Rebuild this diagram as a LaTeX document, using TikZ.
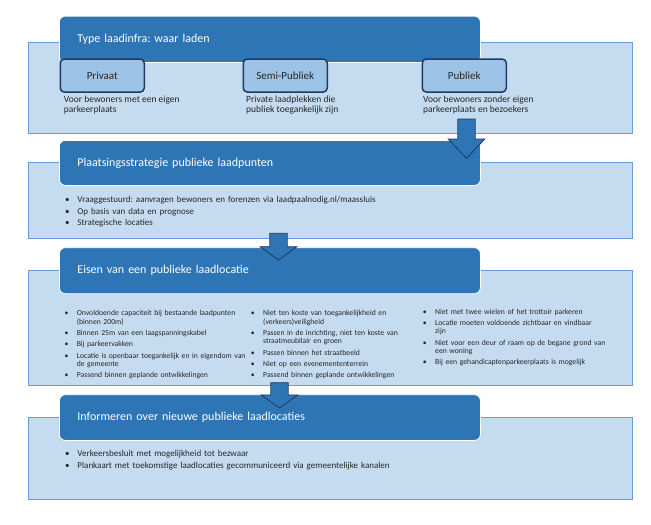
\documentclass[tikz,border=0pt]{standalone}
\usepackage{fontspec}
\setmainfont{Carlito}
\usetikzlibrary{calc,positioning}
\definecolor{hdrblue}{HTML}{2E75B6}
\definecolor{panelfill}{HTML}{C5DCF0}
\definecolor{panelline}{HTML}{6C9AD8}
\definecolor{kindfill}{HTML}{9DC3E6}
\definecolor{navy}{HTML}{1F3864}
\definecolor{txt}{HTML}{262626}
\frenchspacing
\newcommand{\blt}{\par\hangindent=12.3pt\hangafter=1\noindent\makebox[12.3pt][l]{\textbullet}}
\def\blockarrow(#1)(#2)#3{\draw[flowarrow] ($(#1)+(-8.7,0)$) -- ($(#1)+(8.7,0)$) -- ($(#2)+(8.7,-#3)$) -- ($(#2)+(18.3,-#3)$) -- (#2) -- ($(#2)+(-18.3,-#3)$) -- ($(#2)+(-8.7,-#3)$) -- cycle;}
\tikzset{
	panel/.style={draw=panelline, line width=0.8pt, fill=panelfill, anchor=north west, inner sep=0pt, minimum width=604pt},
	header/.style={draw=white, line width=0.8pt, fill=hdrblue, rounded corners=6pt, anchor=north west, minimum width=421pt, text width=385pt, inner xsep=18pt, inner ysep=0pt, align=left, text=white, font=\fontsize{12}{14}\selectfont},
	kindbox/.style={draw=navy, line width=1.5pt, fill=kindfill, rounded corners=4pt, anchor=north west, minimum width=84pt, minimum height=33pt, text=txt, font=\fontsize{11}{13}\selectfont},
	kindtext/.style={anchor=north west, inner sep=0pt, align=left, text=txt, font=\fontsize{9.5}{10.5}\selectfont},
	bullets/.style={anchor=north west, inner sep=0pt, text width=#1, align=left, text=txt, font=\fontsize{9}{11.5}\selectfont},
	eisen/.style={anchor=north west, inner sep=0pt, text width=#1, align=left, text=txt, font=\fontsize{7.7}{8.2}\selectfont\setlength{\parskip}{3.2pt}},
	flowarrow/.style={draw=navy, line width=0.8pt, fill=hdrblue, line join=miter}
}

\begin{document}
\begin{tikzpicture}[x=1pt,y=-1pt]
	\useasboundingbox (0,0) rectangle (651,525);
	
	%%%%% type laadinfra %%%%%
	\node[panel, minimum height=91.6pt] (p1) at (27.5,41.7) {};
	\node[header, minimum height=46.3pt] (h1) at (59,15.7) {Type laadinfra: waar laden};
	\node[kindbox] (privaat) at (59.5,58.3) {Privaat};
	\node[kindbox] (semi) at (242.5,58.3) {Semi-Publiek};
	\node[kindbox] (publiek) at (421.5,58.3) {Publiek};
	\node[kindtext] (privaattxt) at (63.7,95.5) {Voor bewoners met een eigen\\parkeerplaats};
	\node[kindtext] (semitxt) at (246,95.5) {Private laadplekken die\\publiek toegankelijk zijn};
	\node[kindtext] (publiektxt) at (423,95.5) {Voor bewoners zonder eigen\\parkeerplaats en bezoekers};
	
	%%%%% plaatsingsstrategie %%%%%
	\node[panel, minimum height=76.6pt] (p2) at (27.5,161.7) {};
	\node[header, minimum height=45pt] (h2) at (59,140) {Plaatsingsstrategie publieke laadpunten};
	\node[bullets=400pt] (strat) at (65,191.2) {\blt Vraaggestuurd: aanvragen bewoners en forenzen via laadpaalnodig.nl/maassluis
		\blt Op basis van data en prognose
		\blt Strategische locaties};
	
	%%%%% eisen %%%%%
	\node[panel, minimum height=115pt] (p3) at (27.5,270) {};
	\node[header, minimum height=46pt] (h3) at (59,247.3) {Eisen van een publieke laadlocatie};
	\node[eisen=182pt] (eis1) at (64.3,304.2) {\blt Onvoldoende capaciteit bij bestaande laadpunten\newline(binnen 200m)
		\blt Binnen 25m van een laagspanningskabel
		\blt Bij parkeervakken
		\blt Locatie is openbaar toegankelijk en in eigendom van\newline de gemeente
		\blt Passend binnen geplande ontwikkelingen};
	\node[eisen=165pt] (eis2) at (250.7,304.2) {\blt Niet ten koste van toegankelijkheid en\newline(verkeers)veiligheid
		\blt Passen in de inrichting, niet ten koste van\newline straatmeubilair en groen
		\blt Passen binnen het straatbeeld
		\blt Niet op een evenemententerrein
		\blt Passend binnen geplande ontwikkelingen};
	\node[eisen=195pt] (eis3) at (422.7,302.7) {\blt Niet met twee wielen of het trottoir parkeren
		\blt Locatie moeten voldoende zichtbaar en vindbaar\newline zijn
		\blt Niet voor een deur of raam op de begane grond van\newline een woning
		\blt Bij een gehandicaptenparkeerplaats is mogelijk};
	
	%%%%% informeren %%%%%
	\node[panel, minimum height=81.7pt] (p4) at (27.5,417.3) {};
	\node[header, minimum height=45.7pt] (h4) at (59,394.3) {Informeren over nieuwe publieke laadlocaties};
	\node[bullets=400pt] (info) at (65,445.2) {\blt Verkeersbesluit met mogelijkheid tot bezwaar
		\blt Plankaart met toekomstige laadlocaties gecommuniceerd via gemeentelijke kanalen};
	
	%%%%% pijlen %%%%%
	\coordinate (a1top) at (466.5,119);
	\coordinate (a1tip) at (466.5,158.3);
	\coordinate (a2top) at (278.5,233.3);
	\coordinate (a2tip) at (278.5,260);
	\coordinate (a3top) at (279.5,382.7);
	\coordinate (a3tip) at (279.5,408);
	\blockarrow(a1top)(a1tip){19.3}
	\blockarrow(a2top)(a2tip){13.3}
	\blockarrow(a3top)(a3tip){13}
	
\end{tikzpicture}
\end{document}
